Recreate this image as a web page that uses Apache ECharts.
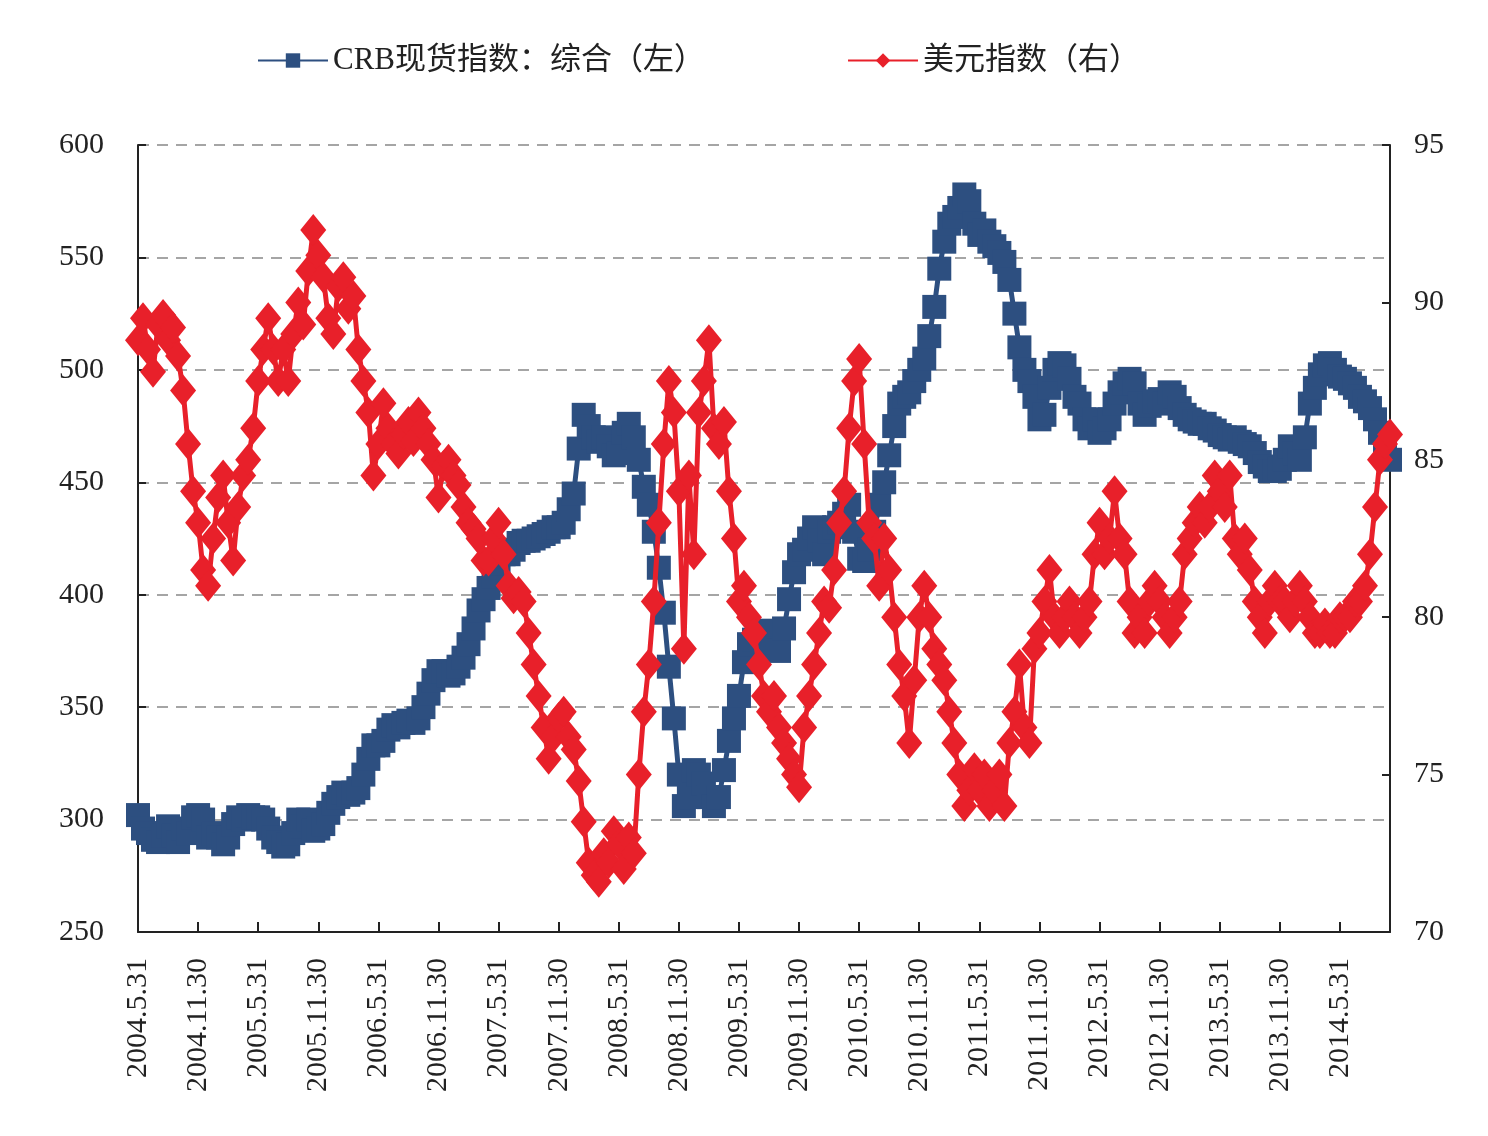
<!DOCTYPE html>
<html>
<head>
<meta charset="utf-8">
<script src="https://cdn.jsdelivr.net/npm/echarts@6/dist/echarts.min.js"></script>
<style>
  html, body { margin: 0; padding: 0; background: #fff; }
  #chart { width: 1488px; height: 1136px; }
</style>
</head>
<body>
<div id="chart"></div>
<script>
// half-month observations from 2004.5.31 to 2014.10.31 (month-end and mid-month)
const dates = []
for (let k = 0; k <= 125; k++) {
  const y = 2004 + Math.floor((4 + k) / 12)
  const m = (4 + k) % 12 + 1
  const last = new Date(y, m, 0).getDate()
  if (k > 0) dates.push(`${y}.${m}.15`)
  dates.push(`${y}.${m}.${last}`)
}

// CRB现货指数：综合（左轴）
const crb = [
  302, 296, 294, 291, 290, 293, 297, 293, 290, 296, 294, 301,
  302, 300, 292, 294, 292, 289, 292, 298, 301, 300, 302, 301,
  301, 300, 296, 292, 290, 288, 289, 294, 300, 297, 300, 295,
  296, 298, 303, 307, 310, 312, 311, 312, 314, 320, 327, 333,
  333, 335, 340, 342, 341, 343, 344, 343, 345, 350, 356, 362,
  366, 366, 364, 365, 368, 372, 378, 385, 393, 398, 403, 408,
  414, 418, 418, 420, 423, 424, 424, 425, 426, 427, 428, 430,
  430, 432, 438, 445, 465, 480, 475, 470, 468, 470, 466, 462,
  463, 472, 476, 470, 460, 448, 440, 428, 412, 392, 368, 345,
  320, 306, 310, 322, 320, 316, 310, 306, 310, 322, 335, 345,
  355, 370, 378, 380, 380, 378, 384, 376, 375, 385, 398, 410,
  418, 420, 425, 430, 424, 418, 428, 430, 432, 436, 440, 428,
  416, 415, 420, 428, 440, 450, 462, 475, 485, 488, 490, 495,
  500, 505, 515, 528, 545, 557, 565, 568, 572, 578, 575, 565,
  560, 562, 557, 555, 552, 548, 540, 525, 510, 500, 495, 488,
  478, 480, 492, 500, 503, 502, 496, 488, 485, 478, 474, 478,
  472, 474, 478, 485, 490, 494, 496, 494, 485, 480, 484, 486,
  487, 485, 490, 488, 483, 480, 478, 477, 476, 476, 474, 473,
  471, 470, 469, 470, 468, 467, 466, 463, 459, 457, 455, 455,
  456, 460, 466, 463, 460, 470, 485, 492, 498, 502, 503, 500,
  497, 496, 494, 492, 488, 486, 483, 478, 472, 466, 460
]

// 美元指数（右轴）
const usd = [
  88.8, 89.5, 88.5, 87.8, 89.3, 89.6, 88.8, 89.2, 88.3, 87.2, 85.5, 84.0,
  83.0, 81.5, 81.0, 82.5, 83.8, 84.5, 83.0, 81.8, 83.5, 84.5, 85.0, 86.0,
  87.5, 88.5, 89.5, 88.5, 87.5, 88.5, 87.5, 89.0, 90.0, 89.3, 91.0, 92.3,
  91.5, 90.8, 89.5, 89.0, 90.5, 90.8, 89.8, 90.2, 88.5, 87.5, 86.5, 84.5,
  85.5, 86.8, 86.0, 85.5, 85.2, 85.8, 86.2, 85.6, 86.5, 86.0, 85.5, 85.0,
  83.8, 84.8, 85.0, 84.5, 84.2, 83.5, 83.0, 82.8, 82.5, 81.8, 81.8, 82.5,
  83.0, 82.0, 81.0, 80.6, 80.8, 80.5, 79.5, 78.5, 77.5, 76.5, 75.5, 76.2,
  76.8, 77.0, 76.2, 75.8, 74.8, 73.5, 72.2, 71.8, 71.6, 72.5, 72.2, 73.2,
  72.8, 72.0, 73.0, 72.5, 75.0, 77.0, 78.5, 80.5, 83.0, 85.5, 87.5, 86.5,
  84.0, 79.0, 84.5, 82.0, 86.5, 87.5, 88.8, 86.0, 85.5, 86.2, 84.0, 82.5,
  80.5, 81.0, 80.0, 79.5, 78.5, 77.5, 77.0, 77.5, 76.5, 76.0, 75.5, 75.0,
  74.6, 76.5, 77.5, 78.5, 79.5, 80.5, 80.3, 81.5, 83.0, 84.0, 86.0, 87.5,
  88.2, 85.5, 83.0, 82.5, 81.0, 82.5, 81.5, 80.0, 78.5, 77.5, 76.0, 78.0,
  80.0, 81.0, 80.0, 79.0, 78.5, 78.0, 77.0, 76.0, 75.0, 74.0, 74.5, 75.2,
  74.5, 75.0, 74.0, 74.5, 75.0, 74.0, 76.0, 77.0, 78.5, 76.5, 76.0, 79.0,
  79.5, 80.5, 81.5, 80.0, 79.5, 80.0, 80.5, 80.0, 79.5, 80.0, 80.5, 82.0,
  83.0, 82.0, 82.5, 84.0, 82.5, 82.0, 80.5, 79.5, 80.0, 79.5, 80.5, 81.0,
  80.5, 80.0, 79.5, 80.0, 80.5, 82.0, 82.5, 83.0, 83.5, 83.0, 83.5, 84.5,
  84.0, 83.5, 84.5, 82.5, 82.0, 82.5, 81.5, 80.5, 80.0, 79.5, 80.5, 81.0,
  80.5, 80.5, 80.0, 80.5, 81.0, 80.5, 80.0, 79.5, 79.5, 79.8, 79.5, 79.5,
  80.0, 80.0, 80.0, 80.5, 80.5, 81.0, 82.0, 83.5, 85.0, 85.5, 85.8
]

const leftTicks = [250, 300, 350, 400, 450, 500, 550, 600]
const rightTicks = [70, 75, 80, 85, 90, 95]

const BLUE = '#2d4f80'
const RED = '#e8202a'
const FONT = '"Liberation Serif", "Noto Sans CJK SC", serif'

const chart = echarts.init(document.getElementById('chart'))

chart.setOption({
  backgroundColor: '#fff',
  animation: false,
  textStyle: { fontFamily: FONT },
  legend: {
    top: 40,
    left: 252,
    itemGap: 142,
    itemWidth: 70,
    itemHeight: 18,
    textStyle: { fontSize: 31, color: '#222', fontFamily: FONT },
    data: ['CRB现货指数：综合（左）', '美元指数（右）']
  },
  grid: { left: 138, right: 98, top: 145, bottom: 204 },
  xAxis: {
    type: 'category',
    data: dates,
    boundaryGap: false,
    axisLine: { lineStyle: { color: '#222', width: 2 } },
    axisTick: { inside: true, interval: 11, length: 10, lineStyle: { color: '#222', width: 2 } },
    axisLabel: { interval: 11, rotate: 90, margin: 26, fontSize: 30, color: '#222', fontFamily: FONT },
    splitLine: { show: false }
  },
  yAxis: [
    {
      type: 'value',
      min: leftTicks[0],
      max: leftTicks[leftTicks.length - 1],
      interval: 50,
      axisLine: { show: true, lineStyle: { color: '#222', width: 2 } },
      axisTick: { show: true, inside: true, length: 8, lineStyle: { color: '#222', width: 2 } },
      axisLabel: { fontSize: 30, color: '#222', margin: 34, fontFamily: FONT },
      splitLine: { show: true, lineStyle: { color: '#888', type: [11, 8], width: 1.5 } }
    },
    {
      type: 'value',
      min: rightTicks[0],
      max: rightTicks[rightTicks.length - 1],
      interval: 5,
      axisLine: { show: true, lineStyle: { color: '#222', width: 2 } },
      axisTick: { show: true, inside: true, length: 8, lineStyle: { color: '#222', width: 2 } },
      axisLabel: { fontSize: 30, color: '#222', margin: 24, fontFamily: FONT },
      splitLine: { show: false }
    }
  ],
  series: [
    {
      name: 'CRB现货指数：综合（左）',
      type: 'line',
      yAxisIndex: 0,
      data: crb,
      symbol: 'rect',
      symbolSize: 24,
      showAllSymbol: true,
      z: 2,
      lineStyle: { color: BLUE, width: 5 },
      itemStyle: { color: BLUE, borderWidth: 0 }
    },
    {
      name: '美元指数（右）',
      type: 'line',
      yAxisIndex: 1,
      data: usd,
      symbol: 'diamond',
      symbolSize: [26, 32],
      showAllSymbol: true,
      z: 3,
      lineStyle: { color: RED, width: 5 },
      itemStyle: { color: RED, borderWidth: 0 }
    }
  ]
})
</script>
</body>
</html>
